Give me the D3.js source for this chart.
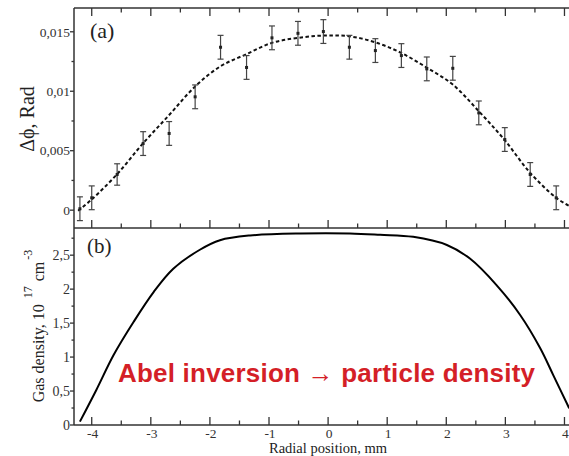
<!DOCTYPE html>
<html><head><meta charset="utf-8">
<script src="https://cdn.jsdelivr.net/npm/d3@7"></script>
<style>
html,body{margin:0;padding:0;background:#fff;}
svg{display:block;}
</style></head>
<body>
<script>
// ---- data ----
const xTicks = [-4,-3,-2,-1,0,1,2,3,4];
const xTickLabels = ["-4","-3","-2","-1","0","1","2","3","4"];
const phiTicks = [0,0.005,0.01,0.015];
const phiTickLabels = ["0","0,005","0,01","0,015"];
const densTicks = [0,0.5,1,1.5,2,2.5];
const densTickLabels = ["0","0,5","1","1,5","2","2,5"];

// measured phase shift points (a)
const pointX = [-4.2,-4.0,-3.57,-3.13,-2.69,-2.25,-1.82,-1.38,-0.95,-0.51,-0.08,0.36,0.8,1.24,1.67,2.11,2.55,2.99,3.42,3.86];
const pointY = [0.00012,0.00104,0.0030,0.0056,0.00645,0.00953,0.0137,0.0120,0.01449,0.01487,0.01502,0.0137,0.01342,0.0130,0.01188,0.01193,0.00818,0.00594,0.0030,0.00104];
const pointErr = [0.001,0.001,0.0009,0.001,0.001,0.001,0.001,0.001,0.001,0.001,0.001,0.001,0.001,0.001,0.001,0.001,0.001,0.001,0.001,0.001];

// fitted curve (a)
const fitX = [-4.23,-4.0,-3.575,-3.135,-2.69,-2.25,-1.82,-1.39,-0.95,-0.51,-0.085,0.355,0.795,1.235,1.675,2.11,2.55,2.98,3.42,3.86,4.1];
const fitY = [-0.00005,0.0009,0.0030,0.0056,0.0080,0.0104,0.0121,0.0131,0.01407,0.01449,0.01468,0.01462,0.01412,0.01323,0.01197,0.01056,0.00832,0.00594,0.00314,0.00104,0.0003];

// gas density (b)
const densX = [-4.2,-3.92,-3.63,-3.29,-2.95,-2.62,-2.17,-1.83,-1.32,-0.47,0.37,0.88,1.44,2.01,2.40,2.85,3.25,3.59,3.81,4.08];
const densY = [0.05,0.52,1.03,1.52,1.96,2.30,2.58,2.72,2.79,2.82,2.82,2.80,2.77,2.65,2.45,2.06,1.62,1.13,0.735,0.245];

// ---- layout ----
const W = 569, H = 456;
const svg = d3.select("body").append("svg").attr("width", W).attr("height", H);
const pLeft = 74, pTop = 8, pMid = 228, pBottom = 425;
const x = d3.scaleLinear().domain([-4.3, 4.3]).range([74, 582.2]);
const yA = d3.scaleLinear().domain([-0.0015, 0.017]).range([pMid, pTop]);
const yB = d3.scaleLinear().domain([0, 2.9]).range([pBottom, pMid]);
const axisCol = "#333";
const serif = "'Liberation Serif','Times New Roman',serif";

const xMinor = d3.range(-4, 4.01, 0.5).filter(v => !xTicks.includes(v));
const phiMinor = [0.0025, 0.0075, 0.0125];
const densMinor = [0.25,0.75,1.25,1.75,2.25,2.75];

const g = svg.append("g");

[[pLeft, W, pTop, pTop], [pLeft, W, pMid, pMid], [pLeft, W, pBottom, pBottom], [pLeft, pLeft, pTop, pBottom]].forEach(l => {
  g.append("line").attr("x1", l[0]).attr("x2", l[1]).attr("y1", l[2]).attr("y2", l[3])
    .attr("stroke", axisCol).attr("stroke-width", 1.5);
});

function vTicks(vals, y0, dir, len) {
  g.selectAll(null).data(vals).enter().append("line")
    .attr("x1", d => x(d)).attr("x2", d => x(d))
    .attr("y1", y0).attr("y2", y0 + dir * len)
    .attr("stroke", axisCol).attr("stroke-width", 1.3);
}
vTicks(xTicks, pTop, 1, 8); vTicks(xMinor, pTop, 1, 4.5);
vTicks(xTicks, pMid, -1, 8); vTicks(xMinor, pMid, -1, 4.5);
vTicks(xTicks, pBottom, -1, 8); vTicks(xMinor, pBottom, -1, 4.5);

function hTicks(vals, sc, len) {
  g.selectAll(null).data(vals).enter().append("line")
    .attr("x1", pLeft).attr("x2", pLeft - len)
    .attr("y1", d => sc(d)).attr("y2", d => sc(d))
    .attr("stroke", axisCol).attr("stroke-width", 1.3);
}
hTicks(phiTicks, yA, 4); hTicks(phiMinor, yA, 2.5);
hTicks(densTicks, yB, 4); hTicks(densMinor, yB, 2.5);

g.selectAll(null).data(phiTicks).enter().append("text")
  .attr("x", 70).attr("y", d => yA(d)).attr("dy", "0.35em")
  .attr("text-anchor", "end").attr("font-family", serif).attr("font-size", 13.5).attr("fill", "#333")
  .text((d, i) => phiTickLabels[i]);
g.selectAll(null).data(densTicks).enter().append("text")
  .attr("x", 70).attr("y", d => yB(d)).attr("dy", "0.35em")
  .attr("text-anchor", "end").attr("font-family", serif).attr("font-size", 14).attr("fill", "#333")
  .text((d, i) => densTickLabels[i]);
g.selectAll(null).data(xTicks).enter().append("text")
  .attr("x", d => x(d) + 1).attr("y", 437.5)
  .attr("text-anchor", "middle").attr("font-family", serif).attr("font-size", 13.5).attr("fill", "#333")
  .text((d, i) => xTickLabels[i]);

svg.append("text").attr("transform", "translate(33.5,119) rotate(-90)")
  .attr("text-anchor", "middle").attr("font-family", serif).attr("font-size", 20).attr("fill", "#222")
  .text("Δϕ, Rad");

const yt = svg.append("text").attr("transform", "translate(43.5,326) rotate(-90)")
  .attr("text-anchor", "middle").attr("font-family", serif).attr("font-size", 16).attr("fill", "#222");
yt.append("tspan").text("Gas density, 10");
yt.append("tspan").attr("dx", 6).attr("dy", -12).attr("font-size", 12).text("17");
yt.append("tspan").attr("dx", 5).attr("dy", 12).text("cm");
yt.append("tspan").attr("dx", 2).attr("dy", -12).attr("font-size", 12).text("-3");

svg.append("text").attr("x", 328).attr("y", 453).attr("text-anchor", "middle")
  .attr("font-family", serif).attr("font-size", 14.5).attr("fill", "#222").text("Radial position, mm");

svg.append("text").attr("x", 90).attr("y", 38).attr("font-family", serif).attr("font-size", 22).attr("fill", "#222").text("(a)");
svg.append("text").attr("x", 87).attr("y", 252.5).attr("font-family", serif).attr("font-size", 21).attr("fill", "#222").text("(b)");

svg.append("clipPath").attr("id", "clipA").append("rect").attr("x", pLeft).attr("y", pTop).attr("width", W - pLeft).attr("height", pMid - pTop);
svg.append("clipPath").attr("id", "clipB").append("rect").attr("x", pLeft).attr("y", pMid).attr("width", W - pLeft).attr("height", pBottom - pMid);

const fitData = fitX.map((v, i) => [v, fitY[i]]);
svg.append("path").attr("clip-path", "url(#clipA)")
  .attr("d", d3.line().x(d => x(d[0])).y(d => yA(d[1])).curve(d3.curveCatmullRom.alpha(0.5))(fitData))
  .attr("fill", "none").attr("stroke", "#111").attr("stroke-width", 2).attr("stroke-dasharray", "3.5,2.5");

const pts = pointX.map((v, i) => ({x: v, y: pointY[i], e: pointErr[i]}));
const eb = svg.append("g").attr("stroke", "#444").attr("stroke-width", 1.2);
eb.selectAll(null).data(pts).enter().append("line")
  .attr("x1", d => x(d.x)).attr("x2", d => x(d.x))
  .attr("y1", d => yA(d.y - d.e)).attr("y2", d => yA(d.y + d.e));
eb.selectAll(null).data(pts).enter().append("line")
  .attr("x1", d => x(d.x) - 3).attr("x2", d => x(d.x) + 3)
  .attr("y1", d => yA(d.y - d.e)).attr("y2", d => yA(d.y - d.e));
eb.selectAll(null).data(pts).enter().append("line")
  .attr("x1", d => x(d.x) - 3).attr("x2", d => x(d.x) + 3)
  .attr("y1", d => yA(d.y + d.e)).attr("y2", d => yA(d.y + d.e));
svg.append("g").selectAll(null).data(pts).enter().append("rect")
  .attr("x", d => x(d.x) - 1.5).attr("y", d => yA(d.y) - 1.5)
  .attr("width", 3).attr("height", 3).attr("fill", "#222");

const densData = densX.map((v, i) => [v, densY[i]]);
svg.append("path").attr("clip-path", "url(#clipB)")
  .attr("d", d3.line().x(d => x(d[0])).y(d => yB(d[1])).curve(d3.curveCatmullRom.alpha(0.5))(densData))
  .attr("fill", "none").attr("stroke", "#000").attr("stroke-width", 2);

svg.append("text").attr("x", 118).attr("y", 382)
  .attr("font-family", "'Liberation Sans',Arial,sans-serif").attr("font-weight", "bold")
  .attr("font-size", 26).attr("fill", "#d41f27")
  .attr("textLength", 417).attr("lengthAdjust", "spacing")
  .text("Abel inversion → particle density");
</script>
</body></html>
